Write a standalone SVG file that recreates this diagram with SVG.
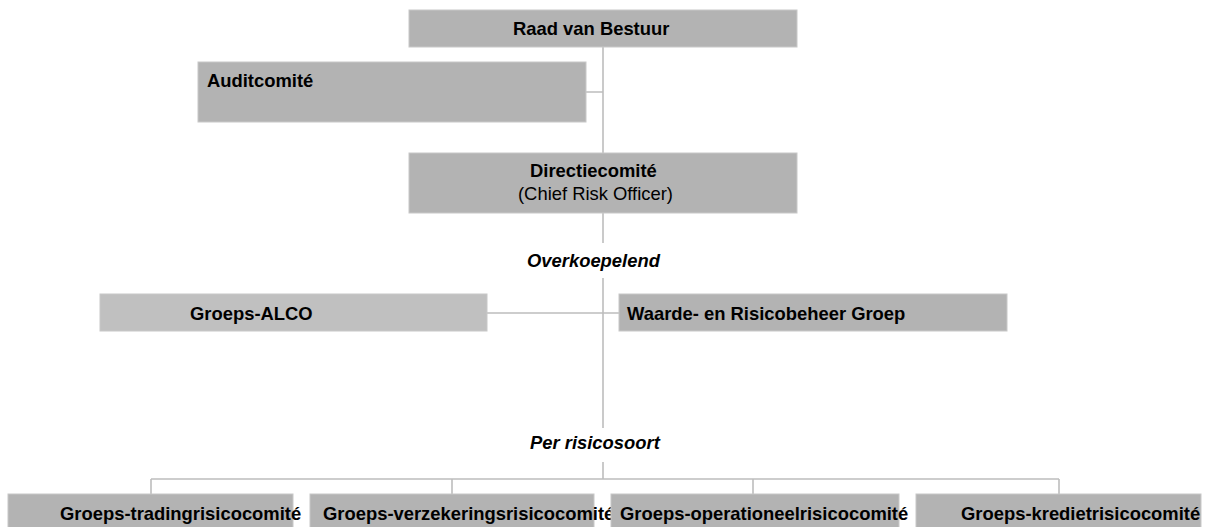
<svg xmlns="http://www.w3.org/2000/svg" width="1208" height="527" viewBox="0 0 1208 527">
<style>
.box{fill:#b3b3b3;stroke:#c8c8c8;stroke-width:1}
.light{fill:#c0c0c0;stroke:#c8c8c8;stroke-width:1}
.t{font-family:"Liberation Sans",Arial,sans-serif;font-size:18.4px;fill:#000}
.b{font-weight:bold}
.i{font-weight:bold;font-style:italic}
.c{fill:none;stroke:#bdbdbd;stroke-width:1.6}
</style>
<rect width="1208" height="527" fill="#fff"/>
<g id="connectors">
<path class="c" d="M603,47 V153 M586,92 H603 M603,213 V243 M603,278 V428 M487,313 H619 M603,462 V479 M151,479 H1059 M151,479 V494 M452,479 V494 M753,479 V494 M1059,479 V494"/>
</g>
<g id="raad"><rect class="box" x="409" y="10" width="388" height="37"/><text class="t b" x="513" y="35">Raad van Bestuur</text></g>
<g id="audit"><rect class="box" x="198" y="62" width="388" height="60"/><text class="t b" x="207" y="87">Auditcomité</text></g>
<g id="directie"><rect class="box" x="409" y="153" width="388" height="60"/><text class="t b" x="530" y="177">Directiecomité</text><text class="t" x="518" y="200">(Chief Risk Officer)</text></g>
<g id="lbl-overkoepelend"><text class="t i" x="527" y="267">Overkoepelend</text></g>
<g id="alco"><rect class="light" x="100" y="294" width="387" height="37"/><text class="t b" x="190" y="320">Groeps-ALCO</text></g>
<g id="waarde"><rect class="box" x="619" y="294" width="388" height="37"/><text class="t b" x="627" y="320">Waarde- en Risicobeheer Groep</text></g>
<g id="lbl-per"><text class="t i" x="530" y="449">Per risicosoort</text></g>
<g id="trading"><rect class="box" x="8" y="494" width="285" height="40"/><text class="t b" x="60" y="520">Groeps-tradingrisicocomité</text></g>
<g id="verzekering"><rect class="box" x="310" y="494" width="284" height="40"/><text class="t b" x="323" y="520">Groeps-verzekeringsrisicocomité</text></g>
<g id="operationeel"><rect class="box" x="611" y="494" width="288" height="40"/><text class="t b" x="620" y="520">Groeps-operationeelrisicocomité</text></g>
<g id="krediet"><rect class="box" x="916" y="494" width="285" height="40"/><text class="t b" x="961" y="520">Groeps-kredietrisicocomité</text></g>
</svg>
